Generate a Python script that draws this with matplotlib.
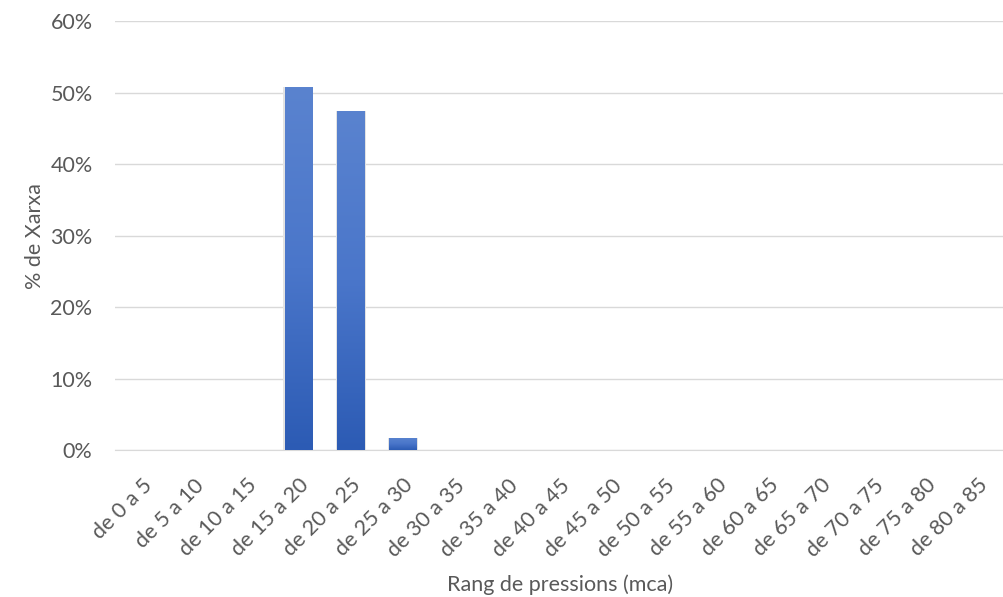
import numpy as np
import matplotlib.pyplot as plt
from matplotlib.ticker import PercentFormatter
from matplotlib.colors import LinearSegmentedColormap

# categories and values (% of network)
ranges = ["de 0 a 5", "de 5 a 10", "de 10 a 15", "de 15 a 20", "de 20 a 25",
          "de 25 a 30", "de 30 a 35", "de 35 a 40", "de 40 a 45", "de 45 a 50",
          "de 50 a 55", "de 55 a 60", "de 60 a 65", "de 65 a 70", "de 70 a 75",
          "de 75 a 80", "de 80 a 85"]
share = [0.0, 0.0, 0.0, 50.8, 47.5, 1.7, 0.0, 0.0, 0.0, 0.0,
         0.0, 0.0, 0.0, 0.0, 0.0, 0.0, 0.0]

TEXT = "#595959"
FS = 15.5
plt.rcParams['font.family'] = ['Lato', 'DejaVu Sans']

fig = plt.figure(figsize=(10.04, 5.97), dpi=100)
ax = fig.add_axes([0.115, 0.246, 0.885, 0.718])

x = np.arange(len(ranges))
bars = ax.bar(x, share, width=0.52, color="#3a68c2", zorder=3)

# vertical gradient inside each bar, lighter on top
grad = np.linspace(0, 1, 256).reshape(-1, 1)
cmap = LinearSegmentedColormap.from_list("bar", ["#2c5bb4", "#4a76ca", "#5a83cf"])
for b in bars:
    h = b.get_height()
    if h <= 0:
        continue
    x0, w = b.get_x(), b.get_width()
    # faint side shadow
    ax.add_patch(plt.Rectangle((x0 - 0.025, 0), w + 0.05, h, color="#e3e3e3",
                               zorder=2, lw=0))
    im = ax.imshow(grad, extent=[x0, x0 + w, 0, h], origin="lower",
                   aspect="auto", cmap=cmap, zorder=4)
    im.set_clip_path(b)

ax.set_xlim(-0.5, len(ranges) - 0.5)
ax.set_ylim(0, 60)
ax.set_yticks(range(0, 61, 10))
ax.yaxis.set_major_formatter(PercentFormatter(decimals=0))
ax.grid(axis="y", color="#d9d9d9", linewidth=1, zorder=0)
ax.set_axisbelow(True)

for s in ["top", "right", "left"]:
    ax.spines[s].set_visible(False)
ax.spines["bottom"].set_color("#d9d9d9")
ax.tick_params(axis="both", length=0, colors=TEXT, labelsize=FS)
ax.tick_params(axis="y", pad=16.5)
ax.tick_params(axis="x", pad=18)

ax.set_xticks(x)
ax.set_xticklabels(ranges, rotation=45, ha="right", rotation_mode="anchor")

ax.set_ylabel("% de Xarxa", color=TEXT, fontsize=FS, labelpad=4)
ax.set_xlabel("Rang de pressions (mca)", color=TEXT, fontsize=FS, labelpad=10)

fig.savefig("out.png", dpi=100)
